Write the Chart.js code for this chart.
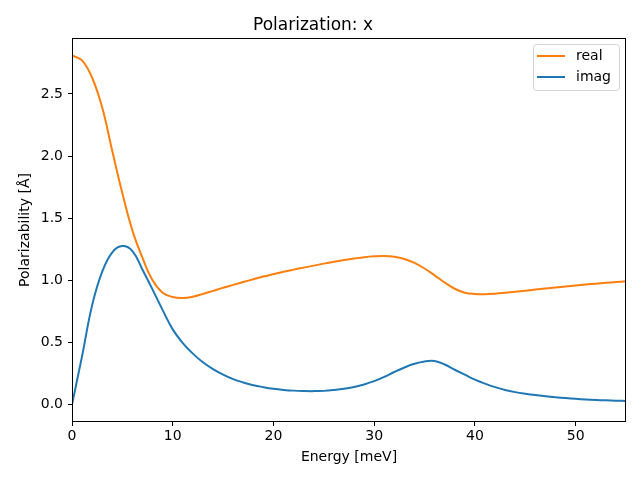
<!DOCTYPE html>
<html>
<head>
<meta charset="utf-8">
<script src="https://cdn.jsdelivr.net/npm/chart.js@4/dist/chart.umd.min.js"></script>
<style>
html,body{margin:0;padding:0;background:#fff;}
canvas{display:block;}
</style>
</head>
<body>
<canvas id="c" width="640" height="480"></canvas>
<script>
const energy = [0,1,2,3,4,5,6,7,8,9,10,11,12,13,14,15,16,17,18,19,20,21,22,23,24,25,26,27,28,29,30,31,32,33,34,35,36,37,38,39,40,41,42,43,44,45,46,47,48,49,50,51,52,53,54,55];
const realValues = [2.81,2.77,2.63,2.39,2.04,1.70,1.40,1.18,1.00,0.90,0.865,0.858,0.868,0.89,0.915,0.94,0.963,0.986,1.008,1.03,1.05,1.069,1.086,1.102,1.118,1.134,1.149,1.163,1.175,1.186,1.193,1.196,1.19,1.172,1.14,1.095,1.04,0.982,0.932,0.90,0.89,0.888,0.892,0.899,0.907,0.916,0.925,0.934,0.942,0.95,0.958,0.966,0.973,0.98,0.986,0.992];
const imagValues = [0,0.39,0.80,1.07,1.225,1.275,1.235,1.085,0.925,0.76,0.605,0.495,0.41,0.34,0.285,0.241,0.205,0.178,0.156,0.14,0.127,0.118,0.112,0.109,0.108,0.110,0.117,0.127,0.142,0.162,0.188,0.222,0.262,0.298,0.328,0.347,0.350,0.322,0.28,0.24,0.20,0.168,0.14,0.117,0.10,0.087,0.076,0.067,0.059,0.052,0.046,0.041,0.037,0.034,0.031,0.029];
const xTickValues = [0,10,20,30,40,50];
const yTickValues = [0,0.5,1.0,1.5,2.0,2.5];
const seriesLabels = ['real','imag'];

const FONT = "'DejaVu Sans', sans-serif";

const frame = {
  id:'frame',
  afterDatasetsDraw(chart){
    const a = chart.chartArea, ctx = chart.ctx;
    ctx.save();
    ctx.strokeStyle = '#000';
    ctx.lineWidth = 1;
    ctx.strokeRect(Math.round(a.left)+0.5, Math.round(a.top)+0.5, Math.round(a.right-a.left)-1, Math.round(a.bottom-a.top)-1);
    ctx.restore();
  }
};

const legendBox = {
  id:'legendBox',
  afterDraw(chart){
    const ctx = chart.ctx;
    const x0 = 533, y0 = 44, w = 86, h = 46, r = 3;
    ctx.save();
    ctx.fillStyle = 'rgba(255,255,255,0.8)';
    ctx.strokeStyle = '#d4d4d4';
    ctx.lineWidth = 1;
    ctx.beginPath();
    ctx.roundRect(x0+0.5, y0+0.5, w, h, r);
    ctx.fill();
    ctx.stroke();
    ctx.font = '14px ' + FONT;
    ctx.textBaseline = 'middle';
    ctx.textAlign = 'left';
    chart.data.datasets.forEach((ds, i) => {
      const y = 56 + i*21;
      ctx.strokeStyle = ds.borderColor;
      ctx.lineWidth = 2;
      ctx.beginPath();
      ctx.moveTo(537, y);
      ctx.lineTo(565, y);
      ctx.stroke();
      ctx.fillStyle = '#000';
      ctx.fillText(ds.label, 576, y);
    });
    ctx.restore();
  }
};

new Chart(document.getElementById('c'), {
  type:'line',
  data:{
    datasets:[
      {label:seriesLabels[0], data:energy.map((e,i)=>({x:e,y:realValues[i]})), borderColor:'#ff7f0e', backgroundColor:'#ff7f0e', borderWidth:2, pointRadius:0, tension:0.4, order:1},
      {label:seriesLabels[1], data:energy.map((e,i)=>({x:e,y:imagValues[i]})), borderColor:'#1f77b4', backgroundColor:'#1f77b4', borderWidth:2, pointRadius:0, tension:0.4, order:0}
    ]
  },
  options:{
    responsive:false,
    animation:false,
    events:[],
    layout:{padding:{left:0,right:14,top:0,bottom:0}},
    plugins:{
      legend:{display:false},
      tooltip:{enabled:false},
      title:{display:true, text:'Polarization: x', color:'#000', font:{family:FONT, size:17, weight:'normal', lineHeight:1.2}, padding:{top:15,bottom:2.6}}
    },
    scales:{
      x:{
        type:'linear', min:0, max:55,
        afterBuildTicks(s){ s.ticks = xTickValues.map(v=>({value:v})); },
        afterFit(s){ s.height = 58; },
        grid:{drawOnChartArea:false, drawTicks:true, tickLength:4, color:'#000'},
        border:{display:false},
        ticks:{color:'#000', font:{family:FONT, size:14}, padding:2, maxRotation:0, callback:v=>String(v)},
        title:{display:true, text:'Energy [meV]', color:'#000', font:{family:FONT, size:14, lineHeight:1.2}, padding:{top:0,bottom:14.6}}
      },
      y:{
        type:'linear', min:-0.1405, max:2.95,
        afterBuildTicks(s){ s.ticks = yTickValues.map(v=>({value:v})); },
        afterFit(s){ s.width = 72; },
        grid:{drawOnChartArea:false, drawTicks:true, tickLength:4, color:'#000'},
        border:{display:false},
        ticks:{color:'#000', font:{family:FONT, size:14}, padding:5, callback:v=>Number(v).toFixed(1)},
        title:{display:true, text:'Polarizability [Å]', color:'#000', font:{family:FONT, size:14, lineHeight:1.2}, padding:{top:16.6,bottom:0}}
      }
    }
  },
  plugins:[frame, legendBox]
});
</script>
</body>
</html>
